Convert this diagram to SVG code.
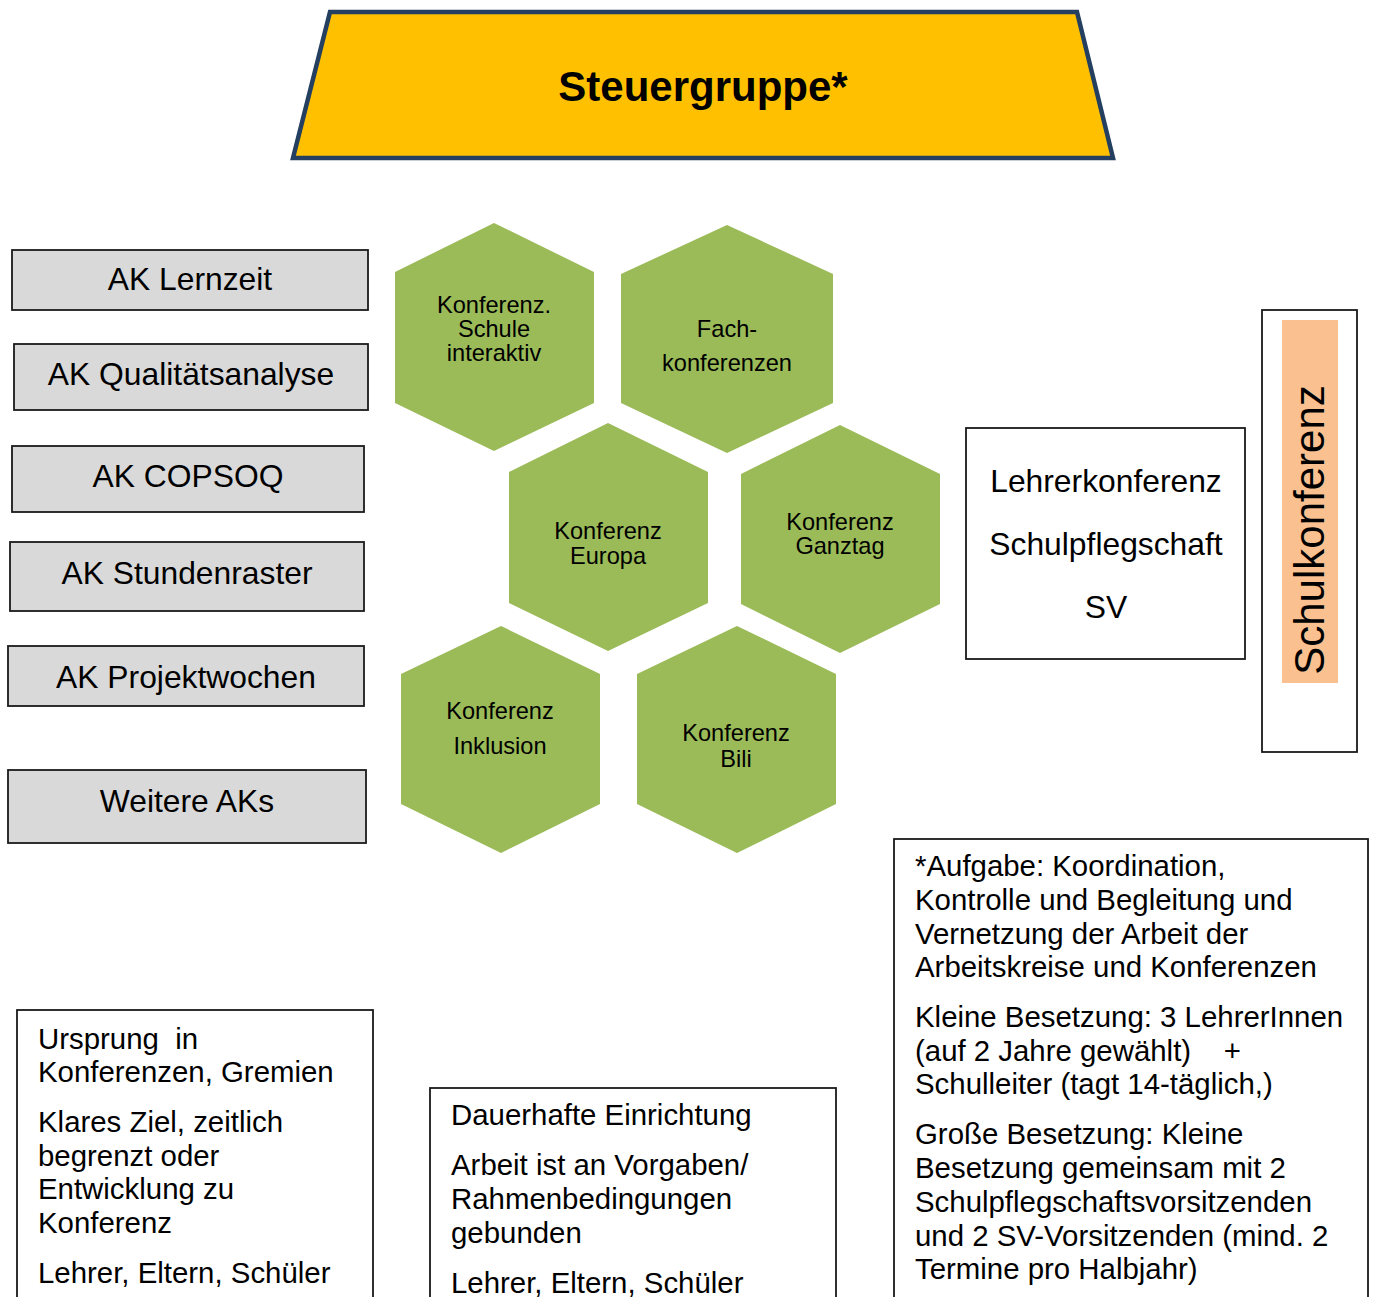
<svg xmlns="http://www.w3.org/2000/svg" width="1374" height="1297" viewBox="0 0 1374 1297">
<style>
text{font-family:"Liberation Sans",Arial,sans-serif;fill:#000}
.ak{fill:#D9D9D9;stroke:#1a1a1a;stroke-width:1.8}
.akt{font-size:31.8px;text-anchor:middle}
.hex{fill:#9BBB59}
.hxt{font-size:23.6px;text-anchor:middle}
.box{fill:#fff;stroke:#1a1a1a;stroke-width:1.8}
.bt{font-size:29.4px;white-space:pre}
</style>
<rect width="1374" height="1297" fill="#fff"/>
<g id="steuergruppe">
<polygon points="330,12 1077,12 1113,158 293,158" fill="#FFC000" stroke="#243F60" stroke-width="4.5" stroke-linejoin="miter"/>
<text x="703" y="101" font-size="42" font-weight="bold" text-anchor="middle">Steuergruppe*</text>
</g>
<g id="ak-lernzeit"><rect class="ak" x="12" y="250" width="356" height="60"/><text class="akt" x="190" y="290">AK Lernzeit</text></g>
<g id="ak-qualitaet"><rect class="ak" x="14" y="344" width="354" height="66"/><text class="akt" x="191" y="385">AK Qualitätsanalyse</text></g>
<g id="ak-copsoq"><rect class="ak" x="12" y="446" width="352" height="66"/><text class="akt" x="188" y="487">AK COPSOQ</text></g>
<g id="ak-stundenraster"><rect class="ak" x="10" y="542" width="354" height="69"/><text class="akt" x="187" y="584">AK Stundenraster</text></g>
<g id="ak-projektwochen"><rect class="ak" x="8" y="646" width="356" height="60"/><text class="akt" x="186" y="688">AK Projektwochen</text></g>
<g id="weitere-aks"><rect class="ak" x="8" y="770" width="358" height="73"/><text class="akt" x="187" y="812">Weitere AKs</text></g>
<g id="hex-schule-interaktiv"><polygon class="hex" points="494,223 594,272 594,403 494,451 395,403 395,272"/>
<text class="hxt" x="494" y="313">Konferenz.</text><text class="hxt" x="494" y="337">Schule</text><text class="hxt" x="494" y="361">interaktiv</text></g>
<g id="hex-fachkonferenzen"><polygon class="hex" points="727,225 833,274 833,403 727,453 621,403 621,274"/>
<text class="hxt" x="727" y="337">Fach-</text><text class="hxt" x="727" y="371">konferenzen</text></g>
<g id="hex-europa"><polygon class="hex" points="608,423 708,472 708,603 608,651 509,603 509,472"/>
<text class="hxt" x="608" y="539">Konferenz</text><text class="hxt" x="608" y="564">Europa</text></g>
<g id="hex-ganztag"><polygon class="hex" points="840,425 940,474 940,604 840,653 741,604 741,474"/>
<text class="hxt" x="840" y="530">Konferenz</text><text class="hxt" x="840" y="554">Ganztag</text></g>
<g id="hex-inklusion"><polygon class="hex" points="501,626 600,674 600,804 501,853 401,804 401,674"/>
<text class="hxt" x="500" y="719">Konferenz</text><text class="hxt" x="500" y="754">Inklusion</text></g>
<g id="hex-bili"><polygon class="hex" points="737,626 836,674 836,804 737,853 637,804 637,674"/>
<text class="hxt" x="736" y="741">Konferenz</text><text class="hxt" x="736" y="767">Bili</text></g>
<g id="lehrerkonferenz"><rect class="box" x="966" y="428" width="279" height="231"/>
<text x="1106" y="492" font-size="31.8" text-anchor="middle">Lehrerkonferenz</text>
<text x="1106" y="555" font-size="31.8" text-anchor="middle">Schulpflegschaft</text>
<text x="1106" y="618" font-size="31.8" text-anchor="middle">SV</text></g>
<g id="schulkonferenz"><rect class="box" x="1262" y="310" width="95" height="442"/>
<rect x="1282" y="320" width="56" height="363" fill="#FAC090"/>
<text x="0" y="0" font-size="42" text-anchor="middle" transform="translate(1324,530) rotate(-90)">Schulkonferenz</text></g>
<g id="info-ak"><rect class="box" x="17" y="1010" width="356" height="300"/>
<text class="bt" x="38" y="1049">Ursprung  in</text>
<text class="bt" x="38" y="1082">Konferenzen, Gremien</text>
<text class="bt" x="38" y="1132">Klares Ziel, zeitlich</text>
<text class="bt" x="38" y="1166">begrenzt oder</text>
<text class="bt" x="38" y="1199">Entwicklung zu</text>
<text class="bt" x="38" y="1233">Konferenz</text>
<text class="bt" x="38" y="1283">Lehrer, Eltern, Schüler</text></g>
<g id="info-konferenz"><rect class="box" x="430" y="1088" width="406" height="230"/>
<text class="bt" x="451" y="1125">Dauerhafte Einrichtung</text>
<text class="bt" x="451" y="1175">Arbeit ist an Vorgaben/</text>
<text class="bt" x="451" y="1209">Rahmenbedingungen</text>
<text class="bt" x="451" y="1243">gebunden</text>
<text class="bt" x="451" y="1293">Lehrer, Eltern, Schüler</text></g>
<g id="info-steuergruppe"><rect class="box" x="894" y="839" width="474" height="480"/>
<text class="bt" x="915" y="876">*Aufgabe: Koordination,</text>
<text class="bt" x="915" y="910">Kontrolle und Begleitung und</text>
<text class="bt" x="915" y="944">Vernetzung der Arbeit der</text>
<text class="bt" x="915" y="977">Arbeitskreise und Konferenzen</text>
<text class="bt" x="915" y="1027">Kleine Besetzung: 3 LehrerInnen</text>
<text class="bt" x="915" y="1061">(auf 2 Jahre gewählt)    +</text>
<text class="bt" x="915" y="1094">Schulleiter (tagt 14-täglich,)</text>
<text class="bt" x="915" y="1144">Große Besetzung: Kleine</text>
<text class="bt" x="915" y="1178">Besetzung gemeinsam mit 2</text>
<text class="bt" x="915" y="1212">Schulpflegschaftsvorsitzenden</text>
<text class="bt" x="915" y="1246">und 2 SV-Vorsitzenden (mind. 2</text>
<text class="bt" x="915" y="1279">Termine pro Halbjahr)</text></g>
<g id="connectors"></g>
</svg>
